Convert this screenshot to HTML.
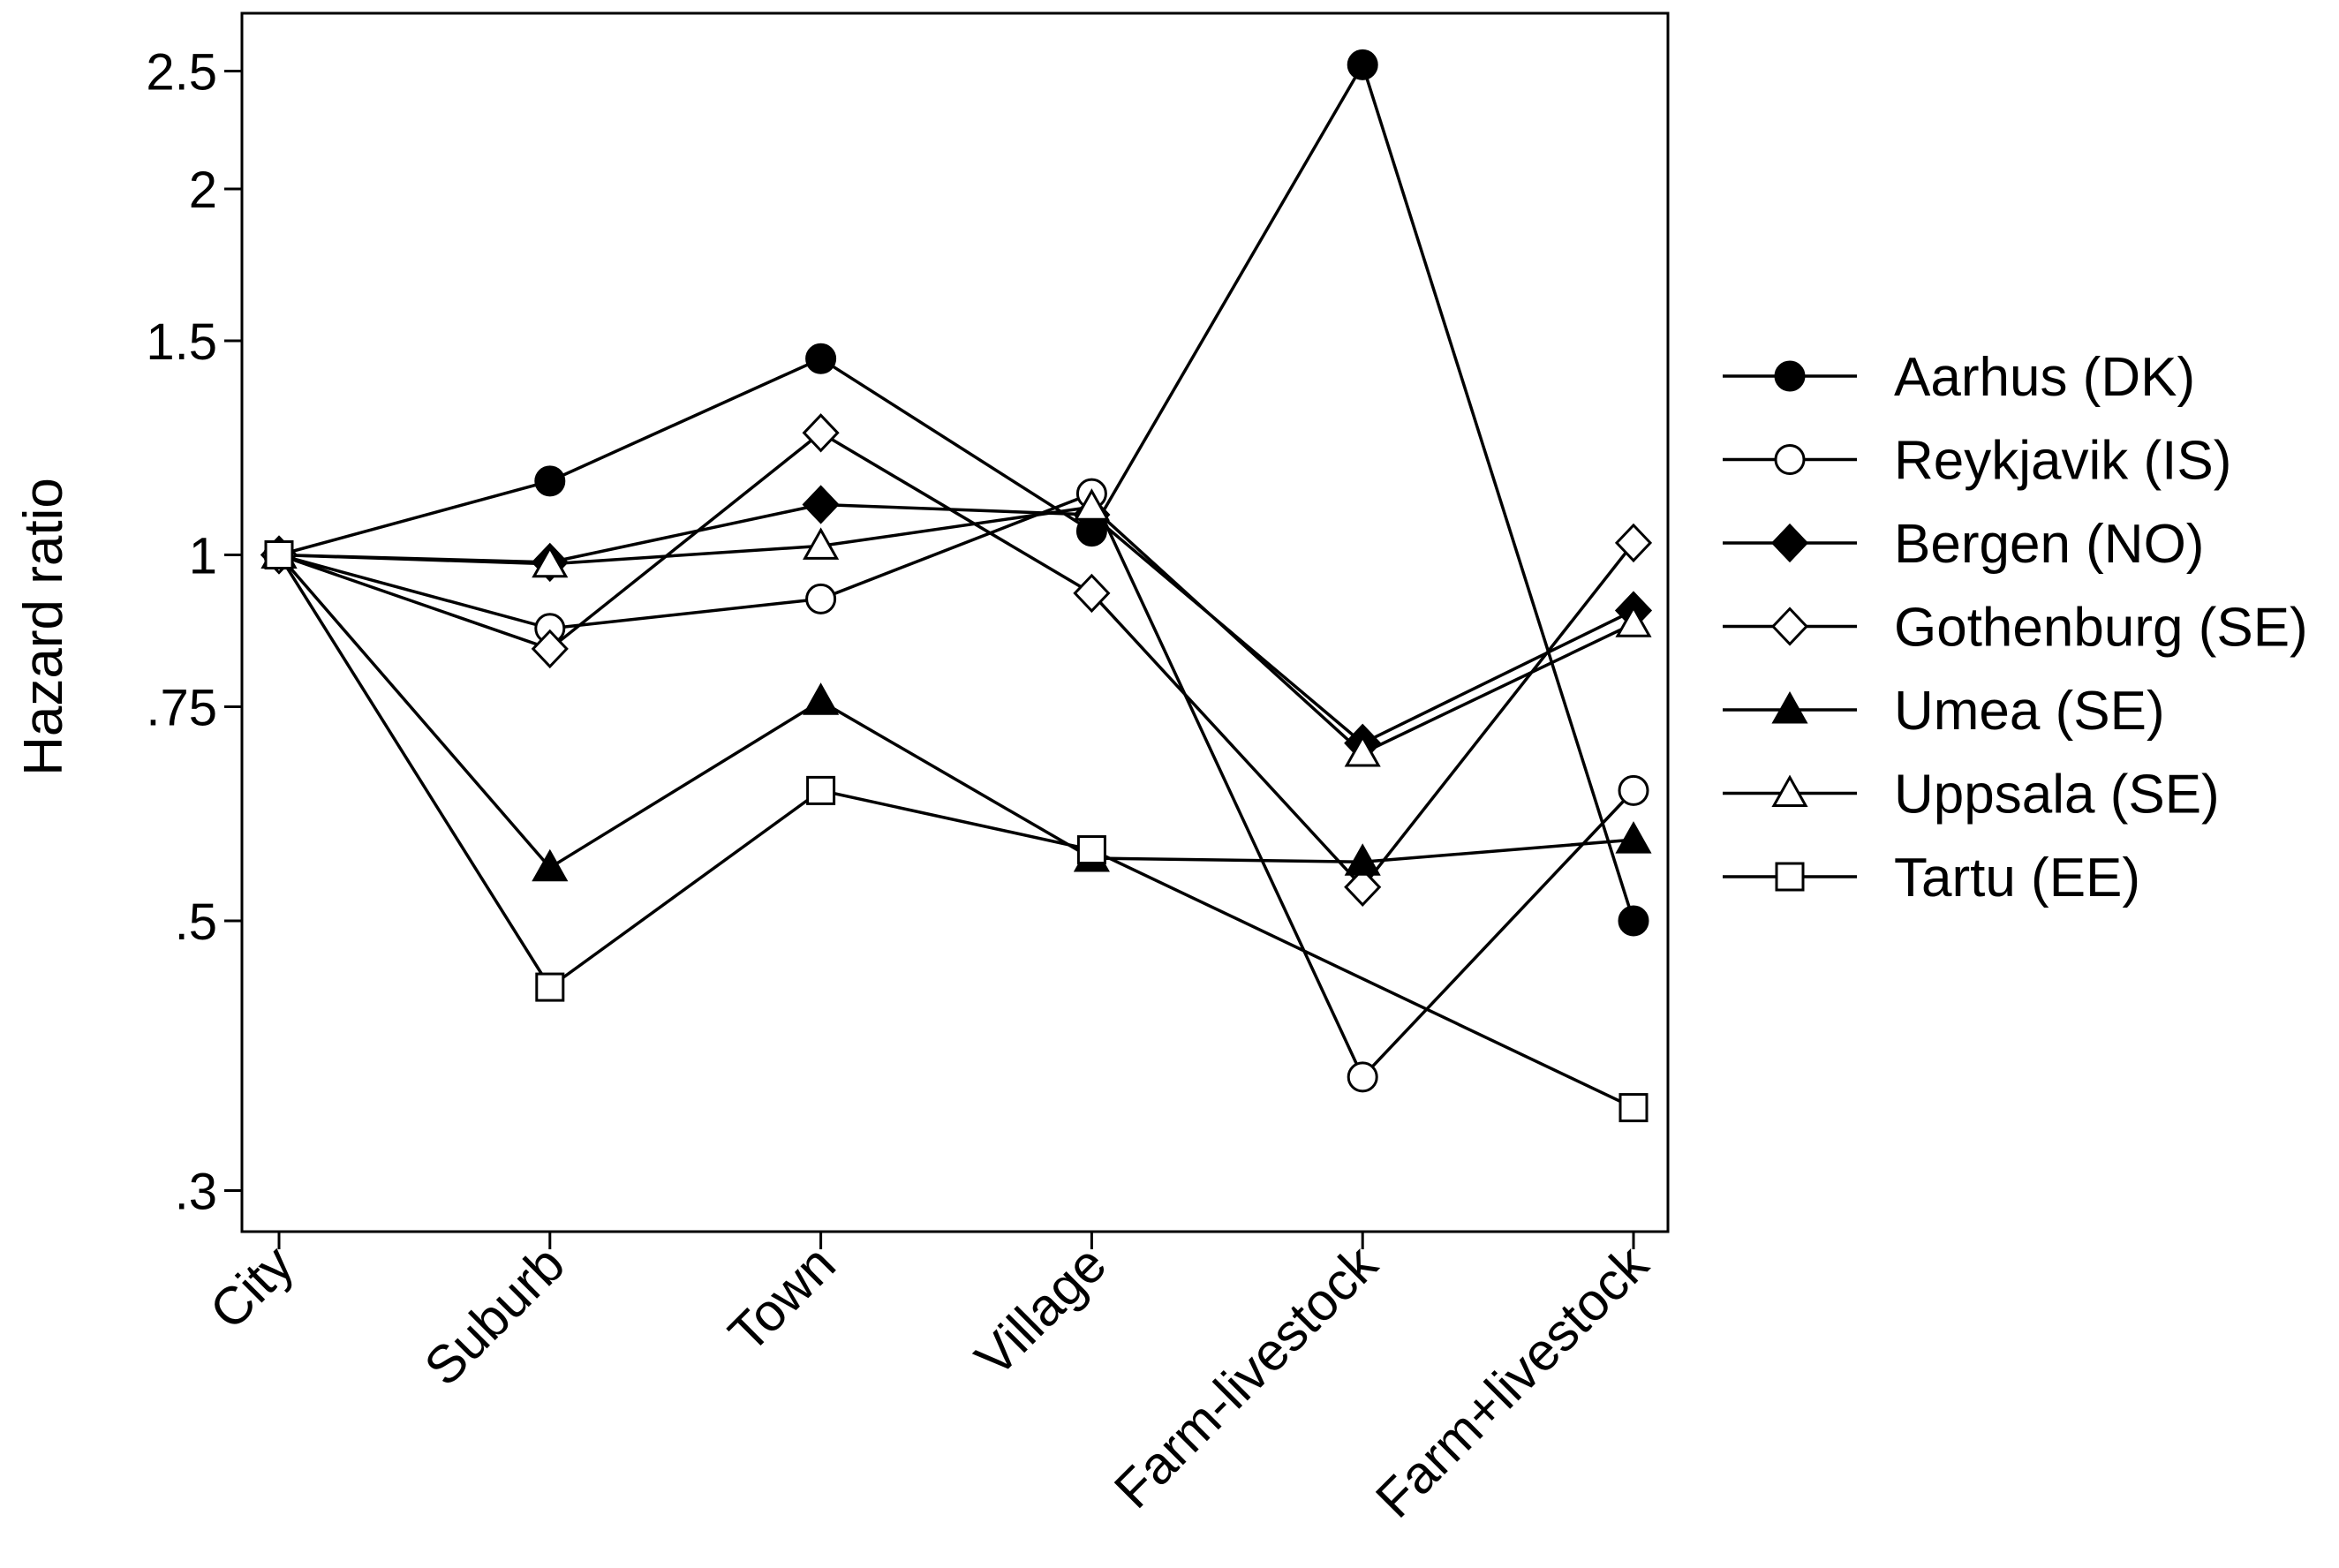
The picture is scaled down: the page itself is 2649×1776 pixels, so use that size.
<!DOCTYPE html>
<html><head><meta charset="utf-8"><style>
html,body{margin:0;padding:0;background:#fff;}
svg{display:block;font-family:"Liberation Sans",Arial,sans-serif;}
</style></head><body>
<svg id="chart" width="2649" height="1776" viewBox="0 0 2649 1776">
<rect x="274" y="15" width="1615" height="1380" fill="#fff" stroke="#000" stroke-width="3"/>
<g id="yaxis"></g>
<g id="xaxis"></g>
<text x="0" y="0" transform="translate(70,710) rotate(-90)" text-anchor="middle" font-size="62">Hazard ratio</text>
<g id="series"></g>
<g id="legend"></g>
</svg>
<script>
const categories = ["City","Suburb","Town","Village","Farm-livestock","Farm+livestock"];
const yTicks = [2.5, 2, 1.5, 1, 0.75, 0.5, 0.3];
const yTickLabels = ["2.5","2","1.5","1",".75",".5",".3"];
const seriesNames = ["Aarhus (DK)","Reykjavik (IS)","Bergen (NO)","Gothenburg (SE)","Umea (SE)","Uppsala (SE)","Tartu (EE)"];
const aarhus = [1, 1.15, 1.45, 1.046, 2.53, 0.5];
const reykjavik = [1, 0.87, 0.92, 1.123, 0.372, 0.64];
const bergen = [1, 0.986, 1.10, 1.079, 0.70, 0.90];
const gothenburg = [1, 0.837, 1.26, 0.93, 0.533, 1.023];
const umea = [1, 0.553, 0.758, 0.563, 0.559, 0.583];
const uppsala = [1, 0.983, 1.017, 1.095, 0.687, 0.878];
const tartu = [1, 0.441, 0.64, 0.572, null, 0.351];
const seriesData = [aarhus, reykjavik, bergen, gothenburg, umea, uppsala, tartu];
const markerTypes = ["circle-filled","circle-open","diamond-filled","diamond-open","triangle-filled","triangle-open","square-open"];

const NS = "http://www.w3.org/2000/svg";
const xPos = i => 316 + i * (1850 - 316) / (categories.length - 1);
const yPos = v => 628.5 - 598 * Math.log(v);
function mk(tag, attrs, parent){const e=document.createElementNS(NS,tag);for(const k in attrs)e.setAttribute(k,attrs[k]);parent.appendChild(e);return e;}

function marker(type, x, y, parent){
  const fill = type.endsWith("filled") ? "#000" : "#fff";
  const st = {fill:fill, stroke:"#000", "stroke-width":3};
  let e;
  if(type.startsWith("circle")) e = mk("circle", Object.assign({cx:x, cy:y, r:16}, st), parent);
  else if(type.startsWith("diamond")) e = mk("polygon", Object.assign({points:`${x},${y-20} ${x+19},${y} ${x},${y+20} ${x-19},${y}`}, st), parent);
  else if(type.startsWith("triangle")) e = mk("polygon", Object.assign({points:`${x},${y-18} ${x+18},${y+14} ${x-18},${y+14}`}, st), parent);
  else e = mk("rect", Object.assign({x:x-15, y:y-15, width:30, height:30}, st), parent);
  return e;
}

const yax = document.getElementById("yaxis");
yTicks.forEach((t,i)=>{
  const y = yPos(t);
  const l = mk("line",{x1:254,x2:274,y1:y,y2:y,stroke:"#000","stroke-width":3},yax);
  
  
  const tx = mk("text",{x:246,y:y+21,"text-anchor":"end","font-size":58},yax);
  tx.textContent = yTickLabels[i];
  
  
});
const xax = document.getElementById("xaxis");
categories.forEach((c,i)=>{
  const x = xPos(i);
  const l = mk("line",{x1:x,x2:x,y1:1395,y2:1415,stroke:"#000","stroke-width":3},xax);
  
  
  const tx = mk("text",{x:0,y:0,"text-anchor":"end","font-size":60,transform:`translate(${x+20},${1436}) rotate(-45)`},xax);
  tx.textContent = c;
  
  
});

const sg = document.getElementById("series");
seriesData.forEach((vals,s)=>{
  const pts = [];
  vals.forEach((v,i)=>{ if(v!==null) pts.push(xPos(i)+","+yPos(v)); });
  const pl = mk("polyline",{points:pts.join(" "),fill:"none",stroke:"#000","stroke-width":3.5},sg);
  
  
});
seriesData.forEach((vals,s)=>{
  vals.forEach((v,i)=>{
    if(v===null) return;
    const m = marker(markerTypes[s], xPos(i), yPos(v), sg);
    
    
  });
});

const lg = document.getElementById("legend");
seriesNames.forEach((n,i)=>{
  const y = 426 + i * 94.5;
  const l = mk("line",{x1:1951,x2:2103,y1:y,y2:y,stroke:"#000","stroke-width":3.5},lg);
  
  
  const m = marker(markerTypes[i], 2027, y, lg);
  
  
  const t = mk("text",{x:2145,y:y+22,"font-size":62},lg);
  t.textContent = n;
  
  
});
</script>
</body></html>
